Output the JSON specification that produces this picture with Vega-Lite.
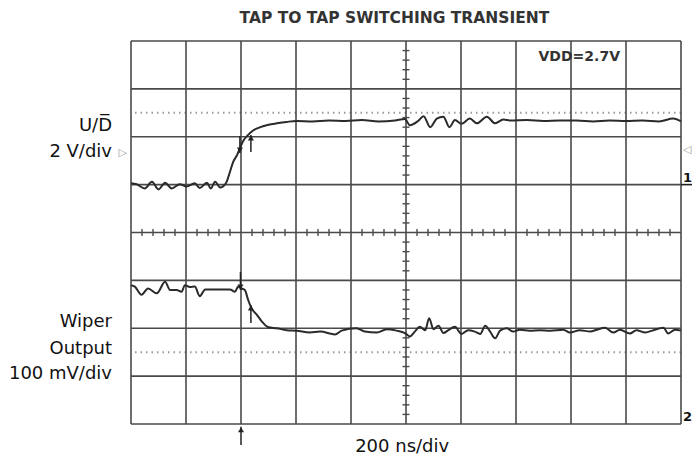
{
  "$schema": "https://vega.github.io/schema/vega-lite/v6.json",
  "width": 550,
  "height": 383,
  "autosize": {"type": "none"},
  "padding": {"left": 131, "top": 41, "right": 13, "bottom": 31},
  "background": "white",
  "config": {"view": {"stroke": null}},
  "datasets": {
    "gridx": [{"x": 0}, {"x": 1}, {"x": 2}, {"x": 3}, {"x": 4}, {"x": 5}, {"x": 6}, {"x": 7}, {"x": 8}, {"x": 9}, {"x": 10}],
    "gridy": [{"y": -4}, {"y": -3}, {"y": -2}, {"y": -1}, {"y": 0}, {"y": 1}, {"y": 2}, {"y": 3}, {"y": 4}],
    "ticksx": [
      {"x": 0.2}, {"x": 0.4}, {"x": 0.6}, {"x": 0.8}, {"x": 1.2}, {"x": 1.4}, {"x": 1.6}, {"x": 1.8},
      {"x": 2.2}, {"x": 2.4}, {"x": 2.6}, {"x": 2.8}, {"x": 3.2}, {"x": 3.4}, {"x": 3.6}, {"x": 3.8},
      {"x": 4.2}, {"x": 4.4}, {"x": 4.6}, {"x": 4.8}, {"x": 5.2}, {"x": 5.4}, {"x": 5.6}, {"x": 5.8},
      {"x": 6.2}, {"x": 6.4}, {"x": 6.6}, {"x": 6.8}, {"x": 7.2}, {"x": 7.4}, {"x": 7.6}, {"x": 7.8},
      {"x": 8.2}, {"x": 8.4}, {"x": 8.6}, {"x": 8.8}, {"x": 9.2}, {"x": 9.4}, {"x": 9.6}, {"x": 9.8}
    ],
    "ticksy": [
      {"y": -3.8}, {"y": -3.6}, {"y": -3.4}, {"y": -3.2}, {"y": -2.8}, {"y": -2.6}, {"y": -2.4}, {"y": -2.2},
      {"y": -1.8}, {"y": -1.6}, {"y": -1.4}, {"y": -1.2}, {"y": -0.8}, {"y": -0.6}, {"y": -0.4}, {"y": -0.2},
      {"y": 0.2}, {"y": 0.4}, {"y": 0.6}, {"y": 0.8}, {"y": 1.2}, {"y": 1.4}, {"y": 1.6}, {"y": 1.8},
      {"y": 2.2}, {"y": 2.4}, {"y": 2.6}, {"y": 2.8}, {"y": 3.2}, {"y": 3.4}, {"y": 3.6}, {"y": 3.8}
    ],
    "dots": [{"y": 2.5}, {"y": -2.5}],
    "traces": [
      {"trace": "UD", "x": 0.0, "y": 1.03}, {"trace": "UD", "x": 0.1, "y": 1.01}, {"trace": "UD", "x": 0.25, "y": 0.92},
      {"trace": "UD", "x": 0.38, "y": 1.06}, {"trace": "UD", "x": 0.5, "y": 0.9}, {"trace": "UD", "x": 0.62, "y": 1.04},
      {"trace": "UD", "x": 0.74, "y": 0.92}, {"trace": "UD", "x": 0.89, "y": 1.01}, {"trace": "UD", "x": 1.01, "y": 0.96},
      {"trace": "UD", "x": 1.16, "y": 1.03}, {"trace": "UD", "x": 1.25, "y": 0.93}, {"trace": "UD", "x": 1.38, "y": 1.04},
      {"trace": "UD", "x": 1.45, "y": 0.92}, {"trace": "UD", "x": 1.53, "y": 1.06}, {"trace": "UD", "x": 1.62, "y": 0.94},
      {"trace": "UD", "x": 1.73, "y": 1.04}, {"trace": "UD", "x": 1.8, "y": 1.27}, {"trace": "UD", "x": 1.86, "y": 1.48},
      {"trace": "UD", "x": 1.93, "y": 1.62}, {"trace": "UD", "x": 1.99, "y": 1.79}, {"trace": "UD", "x": 2.05, "y": 1.93},
      {"trace": "UD", "x": 2.13, "y": 2.04}, {"trace": "UD", "x": 2.22, "y": 2.13}, {"trace": "UD", "x": 2.35, "y": 2.2},
      {"trace": "UD", "x": 2.5, "y": 2.25}, {"trace": "UD", "x": 2.65, "y": 2.28}, {"trace": "UD", "x": 2.83, "y": 2.31},
      {"trace": "UD", "x": 3.01, "y": 2.33}, {"trace": "UD", "x": 3.3, "y": 2.32}, {"trace": "UD", "x": 3.6, "y": 2.34},
      {"trace": "UD", "x": 3.9, "y": 2.33}, {"trace": "UD", "x": 4.2, "y": 2.35}, {"trace": "UD", "x": 4.5, "y": 2.32},
      {"trace": "UD", "x": 4.8, "y": 2.34}, {"trace": "UD", "x": 4.98, "y": 2.37}, {"trace": "UD", "x": 5.07, "y": 2.24},
      {"trace": "UD", "x": 5.22, "y": 2.33}, {"trace": "UD", "x": 5.32, "y": 2.43}, {"trace": "UD", "x": 5.44, "y": 2.2},
      {"trace": "UD", "x": 5.56, "y": 2.38}, {"trace": "UD", "x": 5.68, "y": 2.42}, {"trace": "UD", "x": 5.79, "y": 2.2},
      {"trace": "UD", "x": 5.89, "y": 2.35}, {"trace": "UD", "x": 6.01, "y": 2.27}, {"trace": "UD", "x": 6.16, "y": 2.38},
      {"trace": "UD", "x": 6.29, "y": 2.28}, {"trace": "UD", "x": 6.47, "y": 2.42}, {"trace": "UD", "x": 6.62, "y": 2.28},
      {"trace": "UD", "x": 6.77, "y": 2.36}, {"trace": "UD", "x": 6.9, "y": 2.34}, {"trace": "UD", "x": 7.2, "y": 2.35},
      {"trace": "UD", "x": 7.5, "y": 2.33}, {"trace": "UD", "x": 7.8, "y": 2.34}, {"trace": "UD", "x": 8.1, "y": 2.34},
      {"trace": "UD", "x": 8.4, "y": 2.32}, {"trace": "UD", "x": 8.7, "y": 2.34}, {"trace": "UD", "x": 9.0, "y": 2.33},
      {"trace": "UD", "x": 9.3, "y": 2.34}, {"trace": "UD", "x": 9.6, "y": 2.32}, {"trace": "UD", "x": 9.86, "y": 2.38},
      {"trace": "UD", "x": 10.0, "y": 2.32},
      {"trace": "W", "x": 0.0, "y": -1.1}, {"trace": "W", "x": 0.07, "y": -1.13}, {"trace": "W", "x": 0.19, "y": -1.3},
      {"trace": "W", "x": 0.31, "y": -1.17}, {"trace": "W", "x": 0.47, "y": -1.27}, {"trace": "W", "x": 0.62, "y": -1.03},
      {"trace": "W", "x": 0.71, "y": -1.2}, {"trace": "W", "x": 0.83, "y": -1.2}, {"trace": "W", "x": 0.92, "y": -1.24},
      {"trace": "W", "x": 0.98, "y": -1.1}, {"trace": "W", "x": 1.07, "y": -1.14}, {"trace": "W", "x": 1.16, "y": -1.13},
      {"trace": "W", "x": 1.25, "y": -1.33}, {"trace": "W", "x": 1.35, "y": -1.19}, {"trace": "W", "x": 1.56, "y": -1.19},
      {"trace": "W", "x": 1.8, "y": -1.19}, {"trace": "W", "x": 1.89, "y": -1.24}, {"trace": "W", "x": 1.95, "y": -1.13},
      {"trace": "W", "x": 2.01, "y": -1.17}, {"trace": "W", "x": 2.07, "y": -1.2}, {"trace": "W", "x": 2.13, "y": -1.41},
      {"trace": "W", "x": 2.19, "y": -1.58}, {"trace": "W", "x": 2.29, "y": -1.72}, {"trace": "W", "x": 2.38, "y": -1.86},
      {"trace": "W", "x": 2.5, "y": -1.98}, {"trace": "W", "x": 2.65, "y": -2.0}, {"trace": "W", "x": 2.83, "y": -2.04},
      {"trace": "W", "x": 3.01, "y": -2.05}, {"trace": "W", "x": 3.25, "y": -2.09}, {"trace": "W", "x": 3.44, "y": -2.07},
      {"trace": "W", "x": 3.71, "y": -2.13}, {"trace": "W", "x": 3.83, "y": -2.05}, {"trace": "W", "x": 4.1, "y": -2.0},
      {"trace": "W", "x": 4.25, "y": -2.07}, {"trace": "W", "x": 4.47, "y": -2.09}, {"trace": "W", "x": 4.65, "y": -2.02},
      {"trace": "W", "x": 4.83, "y": -2.05}, {"trace": "W", "x": 4.98, "y": -2.1}, {"trace": "W", "x": 5.07, "y": -2.17},
      {"trace": "W", "x": 5.16, "y": -2.07}, {"trace": "W", "x": 5.25, "y": -1.97}, {"trace": "W", "x": 5.35, "y": -2.04},
      {"trace": "W", "x": 5.42, "y": -1.79}, {"trace": "W", "x": 5.5, "y": -2.02}, {"trace": "W", "x": 5.59, "y": -1.95},
      {"trace": "W", "x": 5.68, "y": -2.1}, {"trace": "W", "x": 5.77, "y": -2.04}, {"trace": "W", "x": 5.89, "y": -1.97},
      {"trace": "W", "x": 6.01, "y": -2.12}, {"trace": "W", "x": 6.13, "y": -2.04}, {"trace": "W", "x": 6.25, "y": -2.07},
      {"trace": "W", "x": 6.35, "y": -2.12}, {"trace": "W", "x": 6.44, "y": -1.95}, {"trace": "W", "x": 6.53, "y": -2.07},
      {"trace": "W", "x": 6.62, "y": -2.21}, {"trace": "W", "x": 6.71, "y": -2.05}, {"trace": "W", "x": 6.83, "y": -2.0},
      {"trace": "W", "x": 6.95, "y": -2.07}, {"trace": "W", "x": 7.07, "y": -2.03}, {"trace": "W", "x": 7.25, "y": -2.05},
      {"trace": "W", "x": 7.44, "y": -2.04}, {"trace": "W", "x": 7.62, "y": -2.05}, {"trace": "W", "x": 7.86, "y": -2.03},
      {"trace": "W", "x": 7.98, "y": -2.09}, {"trace": "W", "x": 8.16, "y": -2.04}, {"trace": "W", "x": 8.35, "y": -2.07},
      {"trace": "W", "x": 8.47, "y": -2.03}, {"trace": "W", "x": 8.62, "y": -1.99}, {"trace": "W", "x": 8.77, "y": -2.09},
      {"trace": "W", "x": 8.89, "y": -2.03}, {"trace": "W", "x": 9.07, "y": -2.11}, {"trace": "W", "x": 9.19, "y": -2.04},
      {"trace": "W", "x": 9.35, "y": -2.09}, {"trace": "W", "x": 9.5, "y": -2.04}, {"trace": "W", "x": 9.68, "y": -1.99},
      {"trace": "W", "x": 9.77, "y": -2.11}, {"trace": "W", "x": 9.89, "y": -2.03}, {"trace": "W", "x": 10.0, "y": -2.05}
    ],
    "sideLabels": [
      {"label": "U/D\u0305", "x": -0.345, "y": 2.125},
      {"label": "2 V/div", "x": -0.345, "y": 1.57},
      {"label": "Wiper", "x": -0.345, "y": -1.97},
      {"label": "Output", "x": -0.345, "y": -2.54},
      {"label": "100 mV/div", "x": -0.345, "y": -3.05}
    ],
    "timeLabel": [{"label": "200 ns/div", "x": 4.93, "y": -4.58}],
    "boldLabels": [
      {"label": "TAP TO TAP SWITCHING TRANSIENT", "x": 4.79, "y": 4.38, "kind": "title"},
      {"label": "VDD=2.7V", "x": 8.15, "y": 3.59, "kind": "vdd"}
    ],
    "arrows": [
      {"x": 1.98, "y": 2.015, "y2": 1.66, "tip": 1.72, "dir": "down"},
      {"x": 2.18, "y": 1.68, "y2": 2.035, "tip": 1.975, "dir": "up"},
      {"x": 1.99, "y": -0.825, "y2": -1.2, "tip": -1.14, "dir": "down"},
      {"x": 2.18, "y": -1.889, "y2": -1.513, "tip": -1.573, "dir": "up"},
      {"x": 2.0, "y": -4.44, "y2": -4.06, "tip": -4.12, "dir": "up"}
    ],
    "markers": [
      {"label": "▷", "x": -0.15, "y": 1.66},
      {"label": "◁", "x": 10.11, "y": 1.72}
    ],
    "channels": [
      {"label": "1", "x": 10.12, "y": 1.06},
      {"label": "2", "x": 10.12, "y": -3.94}
    ],
    "chanRule": [{"x": 10, "x2": 10.2, "y": 1}]
  },
  "layer": [
    {
      "data": {"name": "dots"},
      "mark": {"type": "rule", "stroke": "#9a9a9a", "strokeWidth": 2, "strokeDash": [1.5, 4]},
      "encoding": {
        "y": {"field": "y", "type": "quantitative", "scale": {"domain": [-4, 4], "nice": false, "zero": false}, "axis": null}
      }
    },
    {
      "data": {"name": "gridx"},
      "mark": {"type": "rule", "stroke": "#4a4a4a", "strokeWidth": 1.6},
      "encoding": {
        "x": {"field": "x", "type": "quantitative", "scale": {"domain": [0, 10], "nice": false, "zero": false}, "axis": null}
      }
    },
    {
      "data": {"name": "gridy"},
      "mark": {"type": "rule", "stroke": "#4a4a4a", "strokeWidth": 1.6},
      "encoding": {
        "y": {"field": "y", "type": "quantitative", "scale": {"domain": [-4, 4], "nice": false, "zero": false}, "axis": null}
      }
    },
    {
      "data": {"name": "ticksx"},
      "mark": {"type": "tick", "orient": "vertical", "size": 7, "thickness": 1.4, "color": "#4a4a4a", "opacity": 1},
      "encoding": {
        "x": {"field": "x", "type": "quantitative", "scale": {"domain": [0, 10], "nice": false, "zero": false}, "axis": null},
        "y": {"datum": 0, "type": "quantitative", "scale": {"domain": [-4, 4], "nice": false, "zero": false}, "axis": null}
      }
    },
    {
      "data": {"name": "ticksy"},
      "mark": {"type": "tick", "orient": "horizontal", "size": 7, "thickness": 1.4, "color": "#4a4a4a", "opacity": 1},
      "encoding": {
        "x": {"datum": 5, "type": "quantitative", "scale": {"domain": [0, 10], "nice": false, "zero": false}, "axis": null},
        "y": {"field": "y", "type": "quantitative", "scale": {"domain": [-4, 4], "nice": false, "zero": false}, "axis": null}
      }
    },
    {
      "data": {"name": "chanRule"},
      "mark": {"type": "rule", "stroke": "#222", "strokeWidth": 1.6},
      "encoding": {
        "x": {"field": "x", "type": "quantitative", "scale": {"domain": [0, 10], "nice": false, "zero": false}, "axis": null},
        "x2": {"field": "x2"},
        "y": {"field": "y", "type": "quantitative", "scale": {"domain": [-4, 4], "nice": false, "zero": false}, "axis": null}
      }
    },
    {
      "data": {"name": "traces"},
      "mark": {"type": "line", "stroke": "#2a2a2a", "strokeWidth": 2, "interpolate": "monotone"},
      "encoding": {
        "x": {"field": "x", "type": "quantitative", "scale": {"domain": [0, 10], "nice": false, "zero": false}, "axis": null},
        "y": {"field": "y", "type": "quantitative", "scale": {"domain": [-4, 4], "nice": false, "zero": false}, "axis": null},
        "detail": {"field": "trace", "type": "nominal"},
        "order": {"field": "x", "type": "quantitative"}
      }
    },
    {
      "data": {"name": "arrows"},
      "mark": {"type": "rule", "stroke": "#222", "strokeWidth": 1.5},
      "encoding": {
        "x": {"field": "x", "type": "quantitative", "scale": {"domain": [0, 10], "nice": false, "zero": false}, "axis": null},
        "y": {"field": "y", "type": "quantitative", "scale": {"domain": [-4, 4], "nice": false, "zero": false}, "axis": null},
        "y2": {"field": "y2"}
      }
    },
    {
      "data": {"name": "arrows"},
      "mark": {"type": "point", "filled": true, "color": "#222", "size": 36, "opacity": 1},
      "encoding": {
        "x": {"field": "x", "type": "quantitative", "scale": {"domain": [0, 10], "nice": false, "zero": false}, "axis": null},
        "y": {"field": "tip", "type": "quantitative", "scale": {"domain": [-4, 4], "nice": false, "zero": false}, "axis": null},
        "shape": {"field": "dir", "type": "nominal", "scale": {"domain": ["down", "up"], "range": ["triangle-down", "triangle-up"]}, "legend": null}
      }
    },
    {
      "data": {"name": "sideLabels"},
      "mark": {"type": "text", "align": "right", "baseline": "alphabetic", "font": "DejaVu Sans", "fontSize": 18, "color": "#111"},
      "encoding": {
        "x": {"field": "x", "type": "quantitative", "scale": {"domain": [0, 10], "nice": false, "zero": false}, "axis": null},
        "y": {"field": "y", "type": "quantitative", "scale": {"domain": [-4, 4], "nice": false, "zero": false}, "axis": null},
        "text": {"field": "label"}
      }
    },
    {
      "data": {"name": "timeLabel"},
      "mark": {"type": "text", "align": "center", "baseline": "alphabetic", "font": "DejaVu Sans", "fontSize": 18, "color": "#111"},
      "encoding": {
        "x": {"field": "x", "type": "quantitative", "scale": {"domain": [0, 10], "nice": false, "zero": false}, "axis": null},
        "y": {"field": "y", "type": "quantitative", "scale": {"domain": [-4, 4], "nice": false, "zero": false}, "axis": null},
        "text": {"field": "label"}
      }
    },
    {
      "data": {"name": "boldLabels"},
      "mark": {"type": "text", "align": "center", "baseline": "alphabetic", "font": "DejaVu Sans", "fontWeight": "bold", "color": "#333"},
      "encoding": {
        "x": {"field": "x", "type": "quantitative", "scale": {"domain": [0, 10], "nice": false, "zero": false}, "axis": null},
        "y": {"field": "y", "type": "quantitative", "scale": {"domain": [-4, 4], "nice": false, "zero": false}, "axis": null},
        "text": {"field": "label"},
        "size": {"field": "kind", "type": "nominal", "scale": {"domain": ["title", "vdd"], "range": [15.5, 14]}, "legend": null}
      }
    },
    {
      "data": {"name": "markers"},
      "mark": {"type": "text", "align": "center", "baseline": "middle", "font": "DejaVu Sans", "fontSize": 11, "color": "#999"},
      "encoding": {
        "x": {"field": "x", "type": "quantitative", "scale": {"domain": [0, 10], "nice": false, "zero": false}, "axis": null},
        "y": {"field": "y", "type": "quantitative", "scale": {"domain": [-4, 4], "nice": false, "zero": false}, "axis": null},
        "text": {"field": "label"}
      }
    },
    {
      "data": {"name": "channels"},
      "mark": {"type": "text", "align": "center", "baseline": "alphabetic", "font": "DejaVu Sans", "fontWeight": "bold", "fontSize": 13, "color": "#111"},
      "encoding": {
        "x": {"field": "x", "type": "quantitative", "scale": {"domain": [0, 10], "nice": false, "zero": false}, "axis": null},
        "y": {"field": "y", "type": "quantitative", "scale": {"domain": [-4, 4], "nice": false, "zero": false}, "axis": null},
        "text": {"field": "label"}
      }
    }
  ]
}
